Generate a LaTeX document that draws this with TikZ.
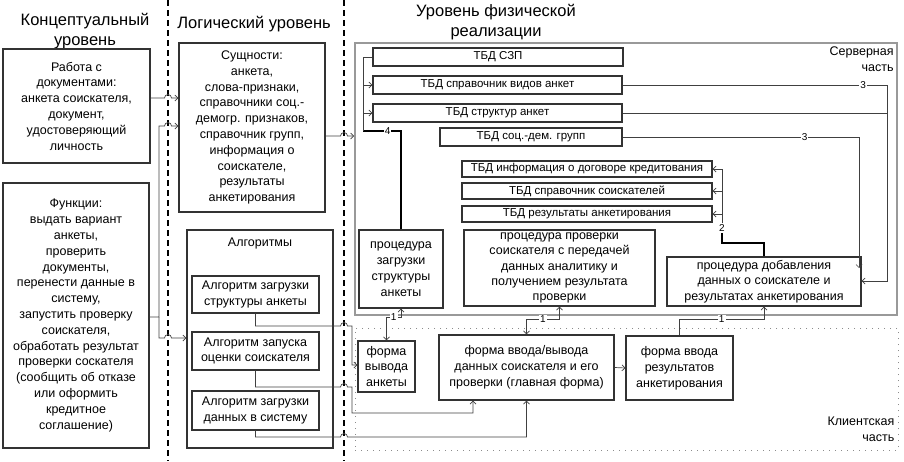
\documentclass[tikz,border=0pt]{standalone}
\usepackage{fontspec}
\setmainfont{Liberation Sans}
\usetikzlibrary{arrows.meta,positioning}

\newcommand{\hopover}[2]{-- (#1-3.5,#2) arc[start angle=180,end angle=0,radius=3.5pt]}

\tikzset{
  box/.style={draw=black!80, line width=1.1pt, align=center, inner sep=1pt,
    font=\fontsize{12.5}{15.8}\selectfont},
  tbd/.style={draw=black!80, line width=1.1pt, inner sep=0pt,
    font=\fontsize{11.5}{13}\selectfont},
  head/.style={align=center, font=\fontsize{16.5}{19.5}\selectfont},
  srv/.style={draw=black!40, line width=1.6pt},
  cli/.style={draw=black!45, line width=1pt, dash pattern=on 1pt off 5pt},
  sep/.style={line width=1.6pt, dash pattern=on 6pt off 4pt},
  lnk/.style={draw=black!75, line width=0.7pt, ->},
  lnkb/.style={draw=black!75, line width=0.7pt, <->},
  thinl/.style={draw=black!75, line width=0.7pt},
  bold/.style={draw=black, line width=1.6pt},
  lbl/.style={fill=white, inner sep=1pt, font=\fontsize{10}{11}\selectfont},
}

\begin{document}
\begin{tikzpicture}[x=1pt, y=-1pt, >={Straight Barb[length=3pt,width=6pt]}]
  \useasboundingbox (0,0) rectangle (904,461);
  % level borders
  \draw[sep] (168,0) -- (168,461);
  \draw[sep] (344,0) -- (344,461);
  \node[head] (h_con) at (85,31) {Концептуальный\\уровень};
  \node[head] (h_log) at (254,24) {Логический уровень};
  \node[head] (h_phy) at (496,22) {Уровень физической\\реализации};

  % conceptual level
  \node[box, minimum width=147pt, minimum height=114pt] (work) at (76.5,106)
    {Работа с\\документами:\\анкета соискателя,\\документ,\\удостоверяющий\\личность};
  \node[box, minimum width=146pt, minimum height=265pt] (func) at (76,315.5)
    {Функции:\\выдать вариант\\анкеты,\\проверить\\документы,\\перенести данные в\\систему,\\запустить проверку\\соискателя,\\обработать результат\\проверки соскателя\\(сообщить об отказе\\или оформить\\кредитное\\соглашение)};

  % logical level
  \node[box, minimum width=146pt, minimum height=169pt] (ent) at (252,127.5)
    {Сущности:\\анкета,\\слова-признаки,\\справочники соц.-\\демогр. признаков,\\справочник групп,\\информация о\\соискателе,\\результаты\\анкетирования};
  \node[box, minimum width=146pt, minimum height=218pt] (algs) at (260,339) {};
  \node[font=\fontsize{12.5}{15.8}\selectfont, below=5pt of algs.north] (algs_t) {Алгоритмы};
  \node[box, minimum width=127pt, minimum height=37pt] (alg1) at (255.5,294.5)
    {Алгоритм загрузки\\структуры анкеты};
  \node[box, minimum width=127pt, minimum height=38pt] (alg2) at (255.5,351)
    {Алгоритм запуска\\оценки соискателя};
  \node[box, minimum width=127pt, minimum height=39pt] (alg3) at (255.5,410.5)
    {Алгоритм загрузки\\данных в систему};

  % physical level
  \node[srv, minimum width=542pt, minimum height=272pt] (server) at (626,179) {};
  \node[cli, minimum width=543pt, minimum height=122pt] (client) at (626.5,389) {};
  \node[anchor=north east, align=right, inner sep=4pt,
    font=\fontsize{12.5}{16}\selectfont] (srv_t) at (server.north east) {Серверная\\часть};
  \node[anchor=south east, align=right, inner sep=4pt,
    font=\fontsize{12.5}{16}\selectfont] (cli_t) at ([yshift=5pt]client.south east) {Клиентская\\часть};

  \node[tbd, minimum width=250pt, minimum height=18pt] (tbd1) at (498,57) {ТБД СЗП};
  \node[tbd, minimum width=249pt, minimum height=18pt] (tbd2) at (497.5,85) {ТБД справочник видов анкет};
  \node[tbd, minimum width=249pt, minimum height=18pt] (tbd3) at (497.5,113) {ТБД структур анкет};
  \node[tbd, minimum width=182pt, minimum height=18pt] (tbd4) at (531,137) {ТБД соц.-дем. групп};
  \node[tbd, minimum width=250pt, minimum height=16pt] (tbd5) at (587,169) {ТБД информация о договоре кредитования};
  \node[tbd, minimum width=250pt, minimum height=16pt] (tbd6) at (587,191) {ТБД справочник соискателей};
  \node[tbd, minimum width=250pt, minimum height=16pt] (tbd7) at (587,214) {ТБД результаты анкетирования};

  \node[box, minimum width=84pt, minimum height=78pt] (proc1) at (401,269)
    {процедура\\загрузки\\структуры\\анкеты};
  \node[box, inner sep=0pt, minimum width=191pt, minimum height=76pt,
    font=\fontsize{12.5}{15.2}\selectfont] (proc2) at (559.5,268)
    {процедура проверки\\соискателя с передачей\\данных аналитику и\\получением результата\\проверки};
  \node[box, minimum width=194pt, minimum height=49pt, font=\fontsize{12.5}{15.5}\selectfont] (proc3) at (764,281.5)
    {процедура добавления\\данных о соискателе и\\результатах анкетирования};

  \node[box, minimum width=57pt, minimum height=51pt] (form1) at (386.5,366.5)
    {форма\\вывода\\анкеты};
  \node[box, minimum width=175pt, minimum height=65pt] (form2) at (526.5,367.5)
    {форма ввода/вывода\\данных соискателя и его\\проверки (главная форма)};
  \node[box, minimum width=107pt, minimum height=64pt] (form3) at (679.5,368)
    {форма ввода\\результатов\\анкетирования};

  % conceptual -> logical
  \coordinate (fj) at (159,317);
  \draw[lnk] (work.east |- 0,98) \hopover{168}{98} -- (ent.west |- 0,98);
  \draw[lnk] (func.east |- fj) -- (fj) -- (159,126) \hopover{168}{126} -- (ent.west |- 0,126);
  \draw[lnk] (fj) -- (159,338) \hopover{168}{338} -- (algs.west |- 0,338);
  % logical -> physical
  \draw[lnk] (ent.east |- 0,136) \hopover{344}{136} -- (server.west |- 0,136);
  \draw[lnk] (alg1.south) -- (alg1.south |- 0,326) \hopover{344}{326} -- (352,326) -- (352,365) -- (form1.west |- 0,365);
  \draw[lnk] (alg2.south) -- (alg2.south |- 0,387) \hopover{344}{387} -- (352,387) -- (352,413) -- (473,413) -- (473,0 |- form2.south);
  \draw[lnk] (alg3.south) -- (alg3.south |- 0,437) \hopover{344}{437} -- (form2.south |- 0,437) -- (form2.south);

  % server part
  \coordinate (c4) at (363,131);
  \draw[bold] (proc1.north) -- (proc1.north |- c4) -- node[lbl, pos=.35]{4} (c4);
  \draw[thinl] (c4) -- (c4 |- tbd1.west) -- (tbd1.west);
  \draw[lnk] (c4 |- tbd2.west) -- (tbd2.west);
  \draw[lnk] (c4 |- tbd3.west) -- (tbd3.west);
  \draw[lnk] (tbd2.east) -- node[lbl, pos=.91]{3} (887,0 |- tbd2.east) -- (887,281) -- (proc3.east |- 0,281);
  \draw[thinl] (tbd3.east) -- (887,0 |- tbd3.east);
  \draw[lnk] (tbd4.east) -- node[lbl, pos=.77]{3} (859,0 |- tbd4.east) -- (859,268);
  \node[lbl] (n2) at (722,228) {2};
  \draw[bold] (proc3.north) -- (proc3.north |- 0,243) -- (722,243) -- (n2.south);
  \draw[thinl] (n2.north) -- (722,0 |- tbd5.east);
  \draw[lnk] (722,0 |- tbd5.east) -- (tbd5.east);
  \draw[lnk] (722,0 |- tbd6.east) -- (tbd6.east);
  \draw[lnk] (722,0 |- tbd7.east) -- (tbd7.east);

  % server <-> client
  \draw[lnkb] (proc1.south) -- (proc1.south |- 0,317) -- node[lbl]{1} (form1.north |- 0,317) -- (form1.north);
  \draw[lnkb] (proc2.south) -- (proc2.south |- 0,319) -- node[lbl]{1} (form2.north |- 0,319) -- (form2.north);
  \draw[lnk] (form3.north) -- (form3.north |- 0,319) -- node[lbl]{1} (proc3.south |- 0,319) -- (proc3.south);
  \draw[lnk] (form2.east) -- (form3.west);
\end{tikzpicture}
\end{document}
